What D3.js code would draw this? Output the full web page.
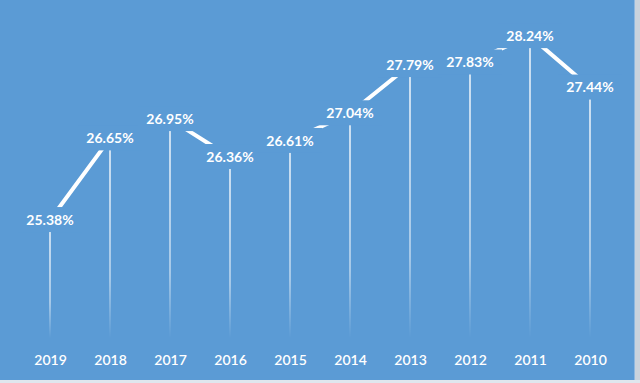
<!DOCTYPE html>
<html><head><meta charset="utf-8">
<script src="https://cdn.jsdelivr.net/npm/d3@7"></script>
<style>
html,body{margin:0;padding:0;background:#c9d3dd;}
svg{display:block;}
</style></head>
<body>
<svg id="chart" width="640" height="383"></svg>
<script>
const years = ["2019","2018","2017","2016","2015","2014","2013","2012","2011","2010"];
const rates = [25.38, 26.65, 26.95, 26.36, 26.61, 27.04, 27.79, 27.83, 28.24, 27.44];
const labels = ["25.38%","26.65%","26.95%","26.36%","26.61%","27.04%","27.79%","27.83%","28.24%","27.44%"];

const bg = "#5b9bd5";
const svg = d3.select("#chart");
const W = 640, H = 383;

svg.append("rect").attr("x",0).attr("y",0).attr("width",634).attr("height",380).attr("fill",bg);
svg.append("line").attr("x1",634.5).attr("x2",634.5).attr("y1",0).attr("y2",380).attr("stroke","#8fb8e0").attr("stroke-width",1);
svg.append("rect").attr("x",0).attr("y",380).attr("width",640).attr("height",3).attr("fill","#dfe6ee");

const x = d3.scalePoint().domain(years).range([50, 590]);
const y = d3.scaleLinear().domain([23.6, 28.5]).range([334.5, 19.4]);
const base = 338;

const data = years.map((yr,i)=>({yr, v:rates[i], label:labels[i]}));

const defs = svg.append("defs");
const grad = defs.append("linearGradient").attr("id","fade").attr("x1",0).attr("x2",0).attr("y1",0).attr("y2",1);
grad.append("stop").attr("offset","0%").attr("stop-color","#fff").attr("stop-opacity",0.95);
grad.append("stop").attr("offset","70%").attr("stop-color","#fff").attr("stop-opacity",0.6);
grad.append("stop").attr("offset","100%").attr("stop-color","#fff").attr("stop-opacity",0);

// drop lines
svg.append("g").selectAll("rect").data(data).join("rect")
  .attr("x", d=>x(d.yr)-0.75).attr("width",1.5)
  .attr("y", d=>y(d.v)).attr("height", d=>base - y(d.v))
  .attr("fill","url(#fade)");

// connecting line
svg.append("path").datum(data)
  .attr("d", d3.line().x(d=>x(d.yr)).y(d=>y(d.v)))
  .attr("fill","none").attr("stroke","#fff").attr("stroke-width",4);

// labels with background boxes
const lg = svg.append("g").selectAll("g").data(data).join("g")
  .attr("transform", d=>`translate(${x(d.yr)},${y(d.v)})`);
lg.append("rect").attr("x",-32).attr("y",-13).attr("width",64).attr("height",25).attr("fill",bg);
lg.append("text").text(d=>d.label)
  .attr("text-anchor","middle").attr("dy","0.35em")
  .attr("fill","#fff").attr("font-family","Lato, 'Open Sans', sans-serif")
  .attr("font-weight","bold").attr("font-size",14);

// x axis labels
const ax = svg.append("g").attr("transform",`translate(0,361)`)
  .call(d3.axisBottom(x).tickSize(0).tickPadding(0));
ax.select(".domain").remove();
ax.selectAll("text").attr("fill","#fff").attr("font-family","Lato, 'Open Sans', sans-serif")
  .attr("font-size",14).attr("font-weight","600").attr("dy","0.32em").attr("y",0);
</script>
</body></html>
